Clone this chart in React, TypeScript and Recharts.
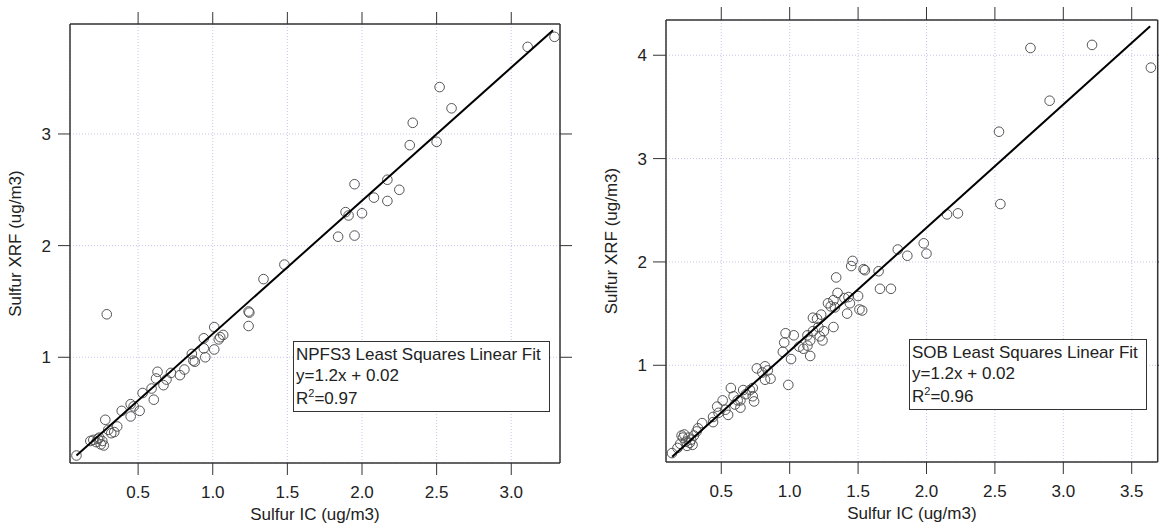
import React from 'react';
import { ScatterChart, Scatter, XAxis, YAxis, CartesianGrid } from 'recharts';

// NPFS3 (left panel) observed pairs: Sulfur IC (x) vs Sulfur XRF (y)
const npfsIC = [
  0.087, 0.18, 0.20, 0.22, 0.23, 0.25, 0.26, 0.27, 0.24, 0.28, 0.30, 0.32, 0.34, 0.36,
  0.39, 0.45, 0.45, 0.47, 0.51, 0.53, 0.59, 0.605, 0.62, 0.63, 0.67, 0.69, 0.72, 0.78, 0.81,
  0.86, 0.87, 0.88, 0.94, 0.95, 0.94, 1.01, 1.01, 1.04, 1.05, 1.07, 1.24, 1.245, 1.24,
  1.34, 1.48, 0.29, 1.84, 1.95, 1.89, 1.91, 2.00, 2.08, 2.17, 2.25, 1.95, 2.17, 2.32,
  2.50, 2.34, 2.60, 2.52, 3.11, 3.29,
];
const npfsXRF = [
  0.12, 0.25, 0.26, 0.24, 0.27, 0.22, 0.25, 0.21, 0.28, 0.44, 0.35, 0.32, 0.33, 0.38,
  0.52, 0.47, 0.58, 0.56, 0.52, 0.68, 0.72, 0.62, 0.81, 0.87, 0.75, 0.80, 0.86, 0.84, 0.89,
  1.03, 0.97, 0.96, 1.08, 1.00, 1.17, 1.07, 1.27, 1.16, 1.18, 1.20, 1.41, 1.40, 1.28,
  1.70, 1.83, 1.385, 2.08, 2.09, 2.30, 2.27, 2.29, 2.43, 2.40, 2.50, 2.55, 2.59, 2.90,
  2.93, 3.10, 3.23, 3.42, 3.78, 3.87,
];
const npfsFitIC = [0.087, 3.28];
const npfsFitXRF = [0.12, 3.93];

// SOB (right panel)
const sobIC = [
  0.14, 0.18, 0.20, 0.21, 0.22, 0.23, 0.24, 0.25, 0.26, 0.27, 0.28, 0.29, 0.30, 0.32, 0.33,
  0.36, 0.44, 0.44, 0.47, 0.48, 0.51, 0.53, 0.55, 0.57, 0.59, 0.60, 0.62, 0.64, 0.64, 0.66,
  0.68, 0.71, 0.73, 0.73, 0.74, 0.76, 0.80, 0.82, 0.82, 0.84, 0.86, 0.95, 0.96, 0.97, 0.99,
  1.01, 1.03, 1.07, 1.10, 1.13, 1.15, 1.13, 1.15, 1.17, 1.17, 1.20, 1.21, 1.22, 1.23, 1.24,
  1.25, 1.28, 1.30, 1.32, 1.32, 1.33, 1.34, 1.35, 1.40, 1.42, 1.43, 1.44, 1.45, 1.46, 1.50,
  1.51, 1.53, 1.54, 1.55, 1.65, 1.66, 1.74, 1.79, 1.86, 1.98, 2.00, 2.15, 2.23, 2.53, 2.54,
  2.76, 2.90, 3.21, 3.64,
];
const sobXRF = [
  0.15, 0.20, 0.24, 0.32, 0.30, 0.33, 0.26, 0.22, 0.30, 0.25, 0.28, 0.23, 0.32, 0.36, 0.39,
  0.44, 0.45, 0.50, 0.60, 0.54, 0.66, 0.57, 0.52, 0.78, 0.70, 0.62, 0.66, 0.59, 0.66, 0.76,
  0.72, 0.76, 0.70, 0.78, 0.65, 0.97, 0.93, 0.99, 0.86, 0.95, 0.87, 1.13, 1.22, 1.31, 0.81,
  1.06, 1.29, 1.18, 1.16, 1.19, 1.09, 1.29, 1.24, 1.46, 1.33, 1.45, 1.37, 1.28, 1.49, 1.24,
  1.33, 1.60, 1.57, 1.37, 1.63, 1.56, 1.85, 1.70, 1.65, 1.50, 1.66, 1.60, 1.96, 2.01, 1.67,
  1.54, 1.53, 1.93, 1.92, 1.91, 1.74, 1.74, 2.12, 2.06, 2.18, 2.08, 2.46, 2.47, 3.26, 2.56,
  4.07, 3.56, 4.10, 3.88,
];
const sobFitIC = [0.141, 3.635];
const sobFitXRF = [0.115, 4.28];

const leftXTicks = [0.5, 1.0, 1.5, 2.0, 2.5, 3.0];
const leftYTicks = [1, 2, 3];
const rightXTicks = [0.5, 1.0, 1.5, 2.0, 2.5, 3.0, 3.5];
const rightYTicks = [1, 2, 3, 4];

const xTitle = 'Sulfur IC (ug/m3)';
const yTitle = 'Sulfur XRF (ug/m3)';
const npfsLegend = ['NPFS3 Least Squares Linear Fit', 'y=1.2x + 0.02', '0.97'];
const sobLegend = ['SOB Least Squares Linear Fit', 'y=1.2x + 0.02', '0.96'];

const zip = (xs: number[], ys: number[]) => xs.map((x, i) => ({ x, y: ys[i] }));

const FONT = '"Liberation Sans", Arial, Helvetica, sans-serif';
const AX = '#333';
const tickStyle = { fontSize: 17, fill: '#222', fontFamily: FONT };

const OpenCircle = (props: any) => {
  const { cx, cy } = props;
  if (cx == null || cy == null) return <g />;
  return <circle cx={cx} cy={cy} r={4.8} fill="none" stroke="#555" strokeWidth={1} />;
};

const NoShape = () => <g />;

type PanelProps = {
  width: number;
  height: number;
  left: number;
  top: number;
  right: number;
  bottom: number;
  xDomain: [number, number];
  yDomain: [number, number];
  xTicks: number[];
  yTicks: number[];
  points: { x: number; y: number }[];
  fit: { x: number; y: number }[];
  yTitleX: number;
  tickSize: number;
  yTickMargin: number;
};

function Panel(p: PanelProps) {
  const yLabel = (props: any) => {
    const vb = props.viewBox || {};
    const cx = (vb.x ?? 0) + p.yTitleX;
    const cy = (vb.y ?? 0) + (vb.height ?? 0) / 2;
    return (
      <text
        x={cx}
        y={cy}
        transform={`rotate(-90, ${cx}, ${cy})`}
        textAnchor="middle"
        dominantBaseline="central"
        style={{ fontSize: 17, fontFamily: FONT, fill: '#222' }}
      >
        {yTitle}
      </text>
    );
  };
  const xLabel = (props: any) => {
    const vb = props.viewBox || {};
    const cx = (vb.x ?? 0) + (vb.width ?? 0) / 2;
    const cy = (vb.y ?? 0) + 57;
    return (
      <text x={cx} y={cy} textAnchor="middle" style={{ fontSize: 17, fontFamily: FONT, fill: '#222' }}>
        {xTitle}
      </text>
    );
  };
  return (
    <ScatterChart width={p.width} height={p.height} margin={{ top: 0, right: 0, bottom: 0, left: 0 }}>
      <CartesianGrid stroke="#c6c6ee" strokeDasharray="1 2" xAxisId="b" yAxisId="l" />
      <XAxis
        xAxisId="b"
        type="number"
        dataKey="x"
        domain={p.xDomain}
        allowDataOverflow
        ticks={p.xTicks}
        tickFormatter={(v: number) => v.toFixed(1)}
        height={p.height - p.bottom}
        tickSize={12}
        tickMargin={11}
        tick={tickStyle}
        stroke={AX}
        axisLine={{ stroke: AX, strokeWidth: 1.5 }}
        tickLine={{ stroke: AX }}
        label={xLabel}
      />
      <XAxis
        xAxisId="t"
        orientation="top"
        type="number"
        dataKey="x"
        domain={p.xDomain}
        allowDataOverflow
        ticks={p.xTicks}
        tickFormatter={() => ''}
        height={p.top}
        tickSize={p.tickSize}
        axisLine={{ stroke: AX, strokeWidth: 1.5 }}
        tickLine={{ stroke: AX }}
      />
      <YAxis
        yAxisId="l"
        type="number"
        dataKey="y"
        domain={p.yDomain}
        allowDataOverflow
        ticks={p.yTicks}
        width={p.left}
        tickSize={p.tickSize}
        tickMargin={p.yTickMargin}
        tick={tickStyle}
        axisLine={{ stroke: AX, strokeWidth: 1.5 }}
        tickLine={{ stroke: AX }}
        label={yLabel}
      />
      <YAxis
        yAxisId="r"
        orientation="right"
        type="number"
        dataKey="y"
        domain={p.yDomain}
        allowDataOverflow
        ticks={p.yTicks}
        width={p.width - p.right}
        tickSize={p.tickSize}
        tickFormatter={() => ''}
        axisLine={{ stroke: AX, strokeWidth: 1.5 }}
        tickLine={{ stroke: AX }}
      />
      <Scatter
        xAxisId="b"
        yAxisId="l"
        data={p.points}
        shape={OpenCircle}
        isAnimationActive={false}
      />
      <Scatter
        xAxisId="b"
        yAxisId="l"
        data={p.fit}
        shape={NoShape}
        line={{ stroke: '#000', strokeWidth: 2 }}
        isAnimationActive={false}
      />
    </ScatterChart>
  );
}

function LegendBox({ lines, left, top, width, height }: { lines: string[]; left: number; top: number; width: number; height: number }) {
  return (
    <div
      style={{
        position: 'absolute',
        left,
        top,
        width,
        height,
        boxSizing: 'border-box',
        border: '1.5px solid #333',
        background: '#fff',
        fontFamily: FONT,
        fontSize: 17,
        color: '#222',
        lineHeight: '21px',
        padding: '2px 0 0 2px',
        whiteSpace: 'nowrap',
      }}
    >
      <div>{lines[0]}</div>
      <div>{lines[1]}</div>
      <div style={{ marginTop: 2 }}>
        R<sup style={{ fontSize: 11, verticalAlign: 'top', lineHeight: '10px' }}>2</sup>={lines[2]}
      </div>
    </div>
  );
}

export default function App() {
  return (
    <div style={{ position: 'absolute', left: 0, top: 0, width: 1159, height: 527, overflow: 'hidden', background: '#fff' }}>
      <div style={{ position: 'absolute', left: 0, top: 0 }}>
        <Panel
          width={580}
          height={527}
          left={70}
          top={24}
          right={560}
          bottom={463}
          xDomain={[0.0436, 3.3266]}
          yDomain={[0.053, 3.985]}
          xTicks={leftXTicks}
          yTicks={leftYTicks}
          points={zip(npfsIC, npfsXRF)}
          fit={zip(npfsFitIC, npfsFitXRF)}
          yTitleX={15}
          tickSize={12}
          yTickMargin={7}
        />
      </div>
      <div style={{ position: 'absolute', left: 580, top: 0 }}>
        <Panel
          width={592}
          height={527}
          left={86}
          top={20}
          right={577.7}
          bottom={462}
          xDomain={[0.096, 3.69]}
          yDomain={[0.064, 4.341]}
          xTicks={rightXTicks}
          yTicks={rightYTicks}
          points={zip(sobIC, sobXRF)}
          fit={zip(sobFitIC, sobFitXRF)}
          yTitleX={31}
          tickSize={13}
          yTickMargin={6}
        />
      </div>
      <LegendBox lines={npfsLegend} left={293} top={341} width={257} height={71} />
      <LegendBox lines={sobLegend} left={909} top={339} width={238} height={71} />
    </div>
  );
}
